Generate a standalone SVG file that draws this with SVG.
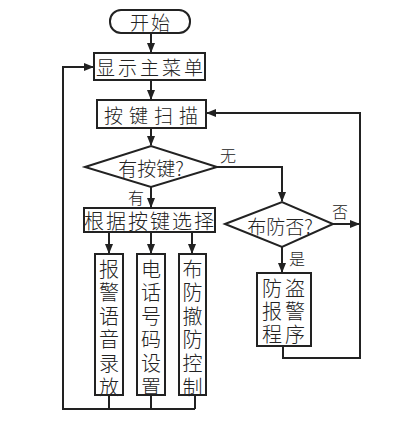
<svg xmlns="http://www.w3.org/2000/svg" width="420" height="426" viewBox="0 0 420 426">
<style>
.b{fill:#fff;stroke:#222;stroke-width:2}
.l{fill:none;stroke:#222;stroke-width:2}
text{font-family:"Noto Sans CJK SC","Liberation Serif",serif;font-weight:300;fill:#222;text-anchor:middle;dominant-baseline:central}
.t{font-size:19px}
.v{font-size:20px}
.s{font-size:16px}
</style>
<defs>
<marker id="a" markerWidth="10" markerHeight="10" refX="9" refY="5" orient="auto" markerUnits="userSpaceOnUse">
<path d="M0,1 L10,5 L0,9 Z" fill="#222"/>
</marker>
</defs>
<rect width="420" height="426" fill="#fff"/>
<g id="connectors">
<path class="l" d="M151,33 V52" marker-end="url(#a)"/>
<path class="l" d="M151,80 V99" marker-end="url(#a)"/>
<path class="l" d="M151,128 V145" marker-end="url(#a)"/>
<path class="l" d="M151,187 V207" marker-end="url(#a)"/>
<path class="l" d="M217,167 H282 V201" marker-end="url(#a)"/>
<path class="l" d="M333,224 H359" marker-end="url(#a)"/>
<path class="l" d="M282,247 V272" marker-end="url(#a)"/>
<path class="l" d="M283,346 V358 H360 V113 H207" marker-end="url(#a)"/>
<path class="l" d="M109,232 V253" marker-end="url(#a)"/>
<path class="l" d="M151,232 V253" marker-end="url(#a)"/>
<path class="l" d="M192,232 V253" marker-end="url(#a)"/>
<path class="l" d="M109,395 V409 M151,395 V409 M195,395 V409 M195,409 H63 V67 H93" marker-end="url(#a)"/>
</g>
<g id="start">
<rect class="b" x="110" y="10" width="80" height="23" rx="11"/>
<text class="t" x="151" y="21" letter-spacing="2">开始</text>
</g>
<g id="menu">
<rect class="b" x="94" y="53" width="111" height="27"/>
<text class="t" x="151" y="66" letter-spacing="3">显示主菜单</text>
</g>
<g id="scan">
<rect class="b" x="97" y="100" width="109" height="28"/>
<text class="t" x="154" y="114" letter-spacing="6">按键扫描</text>
</g>
<g id="haskey">
<path class="b" d="M85,167 L151,146 L217,167 L151,187 Z"/>
<text class="t" x="151" y="167">有按键?</text>
</g>
<g id="select">
<rect class="b" x="84" y="208" width="131" height="24"/>
<text class="v" x="150" y="220" letter-spacing="2">根据按键选择</text>
</g>
<g id="arm">
<path class="b" d="M225,224 L282,202 L333,224 L282,247 Z"/>
<text class="t" x="280" y="225">布防否?</text>
</g>
<g id="alarm">
<rect class="b" x="257" y="273" width="54" height="73"/>
<text class="v" x="272" y="287">防</text><text class="v" x="295" y="287">盗</text>
<text class="v" x="272" y="310">报</text><text class="v" x="295" y="310">警</text>
<text class="v" x="272" y="333">程</text><text class="v" x="295" y="333">序</text>
</g>
<g id="record">
<rect class="b" x="95" y="254" width="28" height="141"/>
<text class="v" x="109" y="268">报</text><text class="v" x="109" y="291.6">警</text><text class="v" x="109" y="315.2">语</text><text class="v" x="109" y="338.8">音</text><text class="v" x="109" y="362.4">录</text><text class="v" x="109" y="386">放</text>
</g>
<g id="phone">
<rect class="b" x="137" y="254" width="28" height="141"/>
<text class="v" x="151" y="268">电</text><text class="v" x="151" y="291.6">话</text><text class="v" x="151" y="315.2">号</text><text class="v" x="151" y="338.8">码</text><text class="v" x="151" y="362.4">设</text><text class="v" x="151" y="386">置</text>
</g>
<g id="armctl">
<rect class="b" x="179" y="254" width="27" height="141"/>
<text class="v" x="192.5" y="268">布</text><text class="v" x="192.5" y="291.6">防</text><text class="v" x="192.5" y="315.2">撤</text><text class="v" x="192.5" y="338.8">防</text><text class="v" x="192.5" y="362.4">控</text><text class="v" x="192.5" y="386">制</text>
</g>
<g id="labels">
<text class="s" x="228" y="155">无</text>
<text class="s" x="136" y="197">有</text>
<text class="s" x="340" y="211">否</text>
<text class="s" x="297" y="258">是</text>
</g>
</svg>
